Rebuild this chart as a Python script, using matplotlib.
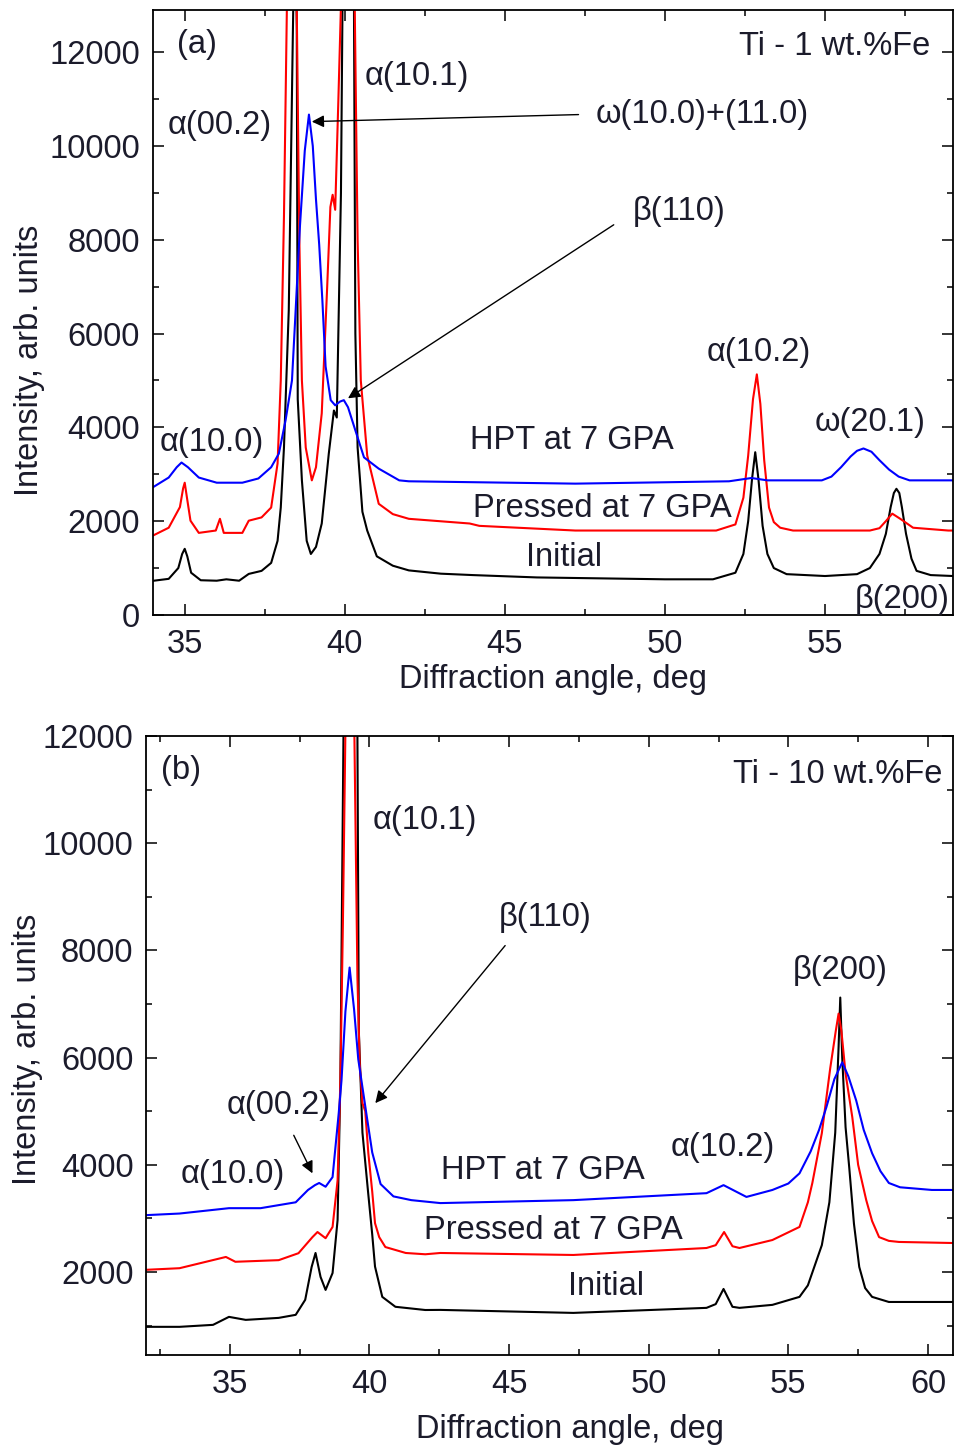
import matplotlib
matplotlib.use("Agg")
import matplotlib.pyplot as plt
from matplotlib.ticker import MultipleLocator

plt.rcParams['font.family'] = ['Liberation Sans', 'DejaVu Sans']

# ---------------- (a) Ti - 1 wt.%Fe ----------------
a_initial_x = [34.0, 34.5, 34.8, 34.92, 35.0, 35.08, 35.2, 35.5, 36.0, 36.3, 36.7, 37.0, 37.4,
               37.7, 37.9, 38.0, 38.1, 38.25, 38.38, 38.45, 38.5, 38.53, 38.66, 38.81, 38.94,
               39.1, 39.28, 39.5, 39.66, 39.75, 39.88, 39.94, 40.1, 40.28, 40.33, 40.4, 40.55,
               40.7, 41.0, 41.5, 42.0, 43.0, 44.0, 46.0, 48.0, 50.0, 51.5, 52.2, 52.45, 52.6,
               52.72, 52.82, 52.92, 53.05, 53.2, 53.4, 53.8, 55.0, 56.0, 56.4, 56.7, 56.9, 57.05,
               57.15, 57.23, 57.32, 57.4, 57.53, 57.7, 57.86, 58.3, 59.0]
a_initial_y = [727, 770, 1000, 1300, 1410, 1250, 900, 740, 730, 760, 730, 875, 940,
               1110, 1580, 2290, 3570, 6500, 12500, 15500, 12500, 4600, 2870, 1580, 1300,
               1450, 1950, 3440, 4360, 4210, 9000, 14000, 22000, 14000, 6000, 3570, 2200,
               1800, 1250, 1050, 950, 880, 850, 800, 780, 760, 760, 900, 1300, 2000,
               2900, 3470, 2900, 1900, 1300, 1000, 870, 830, 870, 1000, 1300, 1730, 2300,
               2600, 2690, 2600, 2300, 1730, 1200, 940, 850, 830]

a_pressed_x = [34.0, 34.5, 34.85, 34.95, 35.0, 35.07, 35.18, 35.44, 35.97, 36.1, 36.22, 36.8,
               37.0, 37.4, 37.7, 37.9, 38.0, 38.1, 38.19, 38.35, 38.5, 38.58, 38.66, 38.78,
               38.97, 39.1, 39.28, 39.45, 39.55, 39.62, 39.7, 39.8, 39.88, 40.1, 40.31, 40.4,
               40.5, 40.7, 41.06, 41.5, 42.0, 43.9, 44.2, 47.2, 51.6, 52.2, 52.45, 52.6, 52.75,
               52.87, 52.98, 53.1, 53.25, 53.4, 53.6, 54.0, 56.4, 56.7, 56.9, 57.1, 57.35, 57.75,
               58.85, 59.0]
a_pressed_y = [1690, 1860, 2300, 2700, 2820, 2500, 2010, 1750, 1800, 2050, 1750, 1750,
               2010, 2080, 2290, 3230, 5000, 8500, 12900, 25000, 12900, 8000, 5000, 3570,
               2870, 3150, 4300, 7000, 8700, 8960, 8640, 11000, 13000, 25000, 13000, 8000,
               5000, 3400, 2370, 2150, 2050, 1950, 1900, 1800, 1800, 1930, 2500, 3400, 4600,
               5130, 4500, 3300, 2290, 1980, 1860, 1800, 1800, 1850, 2000, 2160, 2050, 1860,
               1800, 1800]

a_hpt_x = [34.0, 34.5, 34.75, 34.9, 35.1, 35.44, 36.0, 36.8, 37.3, 37.7, 37.94, 38.15, 38.35,
           38.45, 38.6, 38.75, 38.88, 39.0, 39.1, 39.2, 39.3, 39.4, 39.56, 39.7, 39.85, 39.97,
           40.1, 40.3, 40.6, 41.06, 41.7, 42.0, 47.2, 52.0, 52.7, 53.2, 54.9, 55.2, 55.5, 55.8,
           56.0, 56.2, 56.45, 56.7, 57.0, 57.3, 57.64, 59.0]
a_hpt_y = [2720, 2930, 3150, 3250, 3150, 2930, 2820, 2820, 2910, 3150, 3440, 4150, 5000,
           6300, 8300, 9900, 10670, 10000, 8860, 7900, 6700, 5300, 4580, 4470, 4550, 4580,
           4430, 4000, 3360, 3120, 2870, 2850, 2800, 2850, 2920, 2870, 2870, 2950, 3150, 3380,
           3500, 3550, 3480, 3300, 3100, 2950, 2870, 2870]

# ---------------- (b) Ti - 10 wt.%Fe ----------------
b_initial_x = [32.0, 33.2, 34.4, 34.97, 35.57, 36.75, 37.36, 37.7, 37.93, 38.07, 38.25, 38.43,
               38.68, 38.86, 38.96, 39.07, 39.32, 39.57, 39.62, 39.75, 39.95, 40.1, 40.2, 40.46,
               40.93, 42.0, 42.54, 47.3, 52.07, 52.4, 52.68, 53.0, 53.25, 54.43, 55.4, 55.7,
               56.2, 56.47, 56.68, 56.8, 56.86, 56.93, 57.05, 57.18, 57.35, 57.54, 57.75, 58.0,
               58.6, 60.9]
b_initial_y = [976, 976, 1013, 1162, 1106, 1143, 1200, 1480, 2093, 2354, 1907, 1665,
               1980, 2970, 5575, 12000, 30000, 12000, 6500, 4600, 3500, 2700, 2100, 1535,
               1350, 1290, 1292, 1236, 1330, 1400, 1683, 1350, 1330, 1386, 1535, 1750,
               2500, 3300, 4600, 6200, 7120, 6000, 4700, 3955, 2900, 2093, 1700, 1535,
               1440, 1440]

b_pressed_x = [32.0, 33.2, 34.86, 35.2, 36.75, 37.46, 37.96, 38.14, 38.43, 38.68, 38.86, 38.96,
               39.05, 39.15, 39.3, 39.45, 39.57, 39.65, 39.75, 39.85, 39.96, 40.1, 40.2, 40.35,
               40.57, 41.3, 42.0, 42.54, 47.3, 52.07, 52.4, 52.7, 53.0, 53.25, 54.43, 55.4, 55.7,
               55.86, 56.2, 56.5, 56.7, 56.8, 56.9, 57.05, 57.29, 57.5, 57.79, 58.0, 58.25, 58.6,
               58.96, 60.9]
b_pressed_y = [2040, 2070, 2280, 2190, 2220, 2350, 2650, 2745, 2630, 2840, 3710, 5575,
               8500, 12500, 20000, 12500, 7500, 5900, 5150, 5000, 4220, 3500, 2910, 2650,
               2465, 2354, 2330, 2354, 2317, 2447, 2500, 2745, 2480, 2447, 2596, 2840, 3300,
               3660, 4590, 5800, 6500, 6820, 6500, 5700, 4890, 4000, 3340, 2950, 2650, 2580,
               2560, 2540]

b_hpt_x = [32.0, 33.2, 34.97, 36.1, 37.36, 37.8, 38.05, 38.2, 38.43, 38.68, 38.9, 39.0, 39.14,
           39.29, 39.45, 39.6, 39.9, 40.1, 40.4, 40.86, 41.5, 42.54, 47.3, 52.07, 52.68, 53.5,
           54.43, 55.0, 55.4, 55.8, 56.1, 56.36, 56.65, 56.93, 57.15, 57.43, 57.7, 58.0, 58.3,
           58.6, 59.0, 60.14, 60.9]
b_hpt_y = [3060, 3090, 3190, 3190, 3300, 3530, 3620, 3660, 3590, 3770, 4960, 5575, 6860,
           7680, 6900, 5970, 4920, 4230, 3640, 3410, 3340, 3285, 3340, 3470, 3620, 3400,
           3530, 3650, 3840, 4250, 4650, 5070, 5600, 5910, 5650, 5200, 4650, 4215, 3880,
           3660, 3580, 3530, 3530]

x_ticks_a = [35, 40, 45, 50, 55]
y_ticks_a = [0, 2000, 4000, 6000, 8000, 10000, 12000]
x_ticks_b = [35, 40, 45, 50, 55, 60]
y_ticks_b = [2000, 4000, 6000, 8000, 10000, 12000]

TXT = '#1b1b2b'
FS = 23.5
LW = 1.5

fig = plt.figure(figsize=(9.55, 14.5), dpi=100)
ax1 = fig.add_axes([0.1599, 0.5759, 0.998 - 0.1599, 0.9931 - 0.5759])
ax2 = fig.add_axes([0.1529, 0.0655, 0.998 - 0.1529, 0.4924 - 0.0655])


def style(ax, xt, yt, pad_x, pad_y):
    ax.set_xticks(xt)
    ax.set_yticks(yt)
    ax.xaxis.set_minor_locator(MultipleLocator(2.5))
    ax.yaxis.set_minor_locator(MultipleLocator(1000))
    ax.tick_params(which='both', direction='in', top=True, right=True,
                   colors='black', labelcolor=TXT, labelsize=FS, width=1.1)
    ax.tick_params(which='major', length=8)
    ax.tick_params(which='minor', length=4.5)
    ax.tick_params(axis='x', which='major', pad=pad_x)
    ax.tick_params(axis='y', which='major', pad=pad_y)
    for s in ax.spines.values():
        s.set_linewidth(1.3)


# panel (a)
ax1.plot(a_initial_x, a_initial_y, color='black', lw=LW)
ax1.plot(a_pressed_x, a_pressed_y, color='#ff0000', lw=LW)
ax1.plot(a_hpt_x, a_hpt_y, color='#0000ff', lw=LW)
ax1.set_xlim(34, 59)
ax1.set_ylim(0, 12900)
style(ax1, x_ticks_a, y_ticks_a, 10, 9)
ax1.set_xlabel('Diffraction angle, deg', fontsize=FS, color=TXT)
ax1.set_ylabel('Intensity, arb. units', fontsize=FS, color=TXT)
ax1.xaxis.set_label_coords(0.5, -0.107)
ax1.xaxis.label.set_va('center')
ax1.yaxis.set_label_coords(-0.154, 0.421)
ax1.yaxis.label.set_va('center')

t = dict(fontsize=FS, color=TXT, ha='center', va='center')
ax1.text(34.75, 12170, '(a)', fontsize=FS, color=TXT, ha='left', va='center')
ax1.text(58.3, 12130, 'Ti - 1 wt.%Fe', fontsize=FS, color=TXT, ha='right', va='center')
ax1.text(42.25, 11490, 'α(10.1)', **t)
ax1.text(36.1, 10440, 'α(00.2)', **t)
ax1.text(51.15, 10670, 'ω(10.0)+(11.0)', **t)
ax1.text(50.44, 8600, 'β(110)', **t)
ax1.text(35.84, 3680, 'α(10.0)', **t)
ax1.text(52.94, 5600, 'α(10.2)', **t)
ax1.text(56.4, 4110, 'ω(20.1)', **t)
ax1.text(47.1, 3720, 'HPT at 7 GPA', **t)
ax1.text(48.03, 2270, 'Pressed at 7 GPA', **t)
ax1.text(46.84, 1220, 'Initial', **t)
ax1.text(57.4, 340, 'β(200)', **t)

arr = dict(arrowstyle='-|>', color='black', lw=1.0, mutation_scale=18, shrinkA=0, shrinkB=0)
ax1.annotate('', xy=(38.97, 10520), xytext=(47.3, 10670), arrowprops=arr)
ax1.annotate('', xy=(40.1, 4620), xytext=(48.4, 8320), arrowprops=arr)

# panel (b)
ax2.plot(b_initial_x, b_initial_y, color='black', lw=LW)
ax2.plot(b_pressed_x, b_pressed_y, color='#ff0000', lw=LW)
ax2.plot(b_hpt_x, b_hpt_y, color='#0000ff', lw=LW)
ax2.set_xlim(32, 60.9)
ax2.set_ylim(450, 12000)
style(ax2, x_ticks_b, y_ticks_b, 10, 9)
ax2.set_xlabel('Diffraction angle, deg', fontsize=FS, color=TXT)
ax2.set_ylabel('Intensity, arb. units', fontsize=FS, color=TXT)
ax2.xaxis.set_label_coords(0.525, -0.121)
ax2.xaxis.label.set_va('center')
ax2.yaxis.set_label_coords(-0.147, 0.493)
ax2.yaxis.label.set_va('center')

ax2.text(32.54, 11350, '(b)', fontsize=FS, color=TXT, ha='left', va='center')
ax2.text(60.5, 11290, 'Ti - 10 wt.%Fe', fontsize=FS, color=TXT, ha='right', va='center')
ax2.text(42.0, 10420, 'α(10.1)', **t)
ax2.text(46.29, 8610, 'β(110)', **t)
ax2.text(36.75, 5110, 'α(00.2)', **t)
ax2.text(35.1, 3810, 'α(10.0)', **t)
ax2.text(46.2, 3900, 'HPT at 7 GPA', **t)
ax2.text(52.64, 4330, 'α(10.2)', **t)
ax2.text(46.57, 2780, 'Pressed at 7 GPA', **t)
ax2.text(48.46, 1720, 'Initial', **t)
ax2.text(56.86, 7620, 'β(200)', **t)

ax2.annotate('', xy=(40.21, 5150), xytext=(44.86, 8090), arrowprops=arr)
ax2.annotate('', xy=(37.96, 3840), xytext=(37.29, 4550), arrowprops=arr)

fig.savefig('out.png', dpi=100, facecolor='white')
